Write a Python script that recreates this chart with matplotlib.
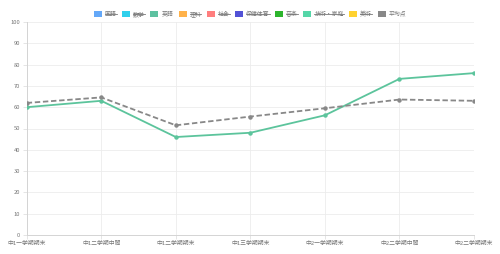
import matplotlib
matplotlib.use('Agg')
import matplotlib.pyplot as plt
from matplotlib.patches import Rectangle
from matplotlib.lines import Line2D

plt.rcParams['font.family'] = ['Noto Sans CJK JP', 'DejaVu Sans']

# data
terms = ['中1一学期期末', '中1二学期中間', '中1二学期期末', '中1三学期期末',
         '中2一学期期末', '中2二学期中間', '中2二学期期末']
english = [60, 63, 46, 48, 56.2, 73.3, 76]
average = [62, 64.6, 51.5, 55.6, 59.5, 63.6, 63]

legend_labels = ['国語', '数学', '英語', '理科', '社会', '保健体育', '音楽',
                 '技術・家庭', '美術', '平均点']
legend_colors = ['#64a8f8', '#30d0ec', '#5dc1a0', '#ffb24a', '#ff7e7e',
                 '#5252d6', '#2db52d', '#55d6a8', '#ffd230', '#888888']
hidden = [True, True, False, True, True, True, True, True, True, False]

W, H = 500, 254
fig = plt.figure(figsize=(W / 100, H / 100), dpi=100)
ax = fig.add_axes([26.7 / W, (H - 235) / H, (474 - 26.7) / W, (235 - 22) / H])

x = list(range(len(terms)))
ax.plot(x, english, color='#5cc49c', lw=1.3, marker='o', ms=2.2, zorder=3)
ax.plot(x, average, color='#888888', lw=1.3, ls=(0, (3, 1.5)), marker='o',
        ms=2.2, zorder=3)

ax.set_xlim(0, len(terms) - 1)
ax.set_ylim(0, 100)
ax.set_yticks(range(0, 101, 10))
ax.set_xticks(x)
ax.set_xticklabels(terms)
ax.grid(True, color='#ececec', lw=0.6)
ax.set_axisbelow(True)
for side in ['top', 'right']:
    ax.spines[side].set_visible(False)
for side in ['left', 'bottom']:
    ax.spines[side].set_color('#d4d4d4')
    ax.spines[side].set_linewidth(0.7)
ax.tick_params(axis='both', length=3, width=0.6, color='#e0e0e0',
               labelsize=4.2, labelcolor='#777777', pad=1.5)

# chart.js style legend with struck-through hidden items
fig.canvas.draw()
renderer = fig.canvas.get_renderer()
box_w, box_h, gap, item_gap = 8, 6, 3, 5.5
texts = []
widths = []
for lab in legend_labels:
    t = fig.text(0, 0, lab, fontsize=4.2, color='#777777', va='center')
    w = t.get_window_extent(renderer).width
    texts.append(t)
    widths.append(w)
total = sum(box_w + gap + w for w in widths) + item_gap * (len(widths) - 1)
cx = (W - total) / 2
cy = H - 14
for t, w, col, hid in zip(texts, widths, legend_colors, hidden):
    fig.add_artist(Rectangle((cx / W, (cy - box_h / 2) / H), box_w / W, box_h / H,
                             transform=fig.transFigure, facecolor=col,
                             edgecolor='none'))
    tx = cx + box_w + gap
    t.set_position((tx / W, cy / H))
    if hid:
        fig.add_artist(Line2D([tx / W, (tx + w) / W], [cy / H, cy / H],
                              transform=fig.transFigure, color='#777777', lw=0.6))
    cx = tx + w + item_gap

fig.savefig('out.png', dpi=100)
